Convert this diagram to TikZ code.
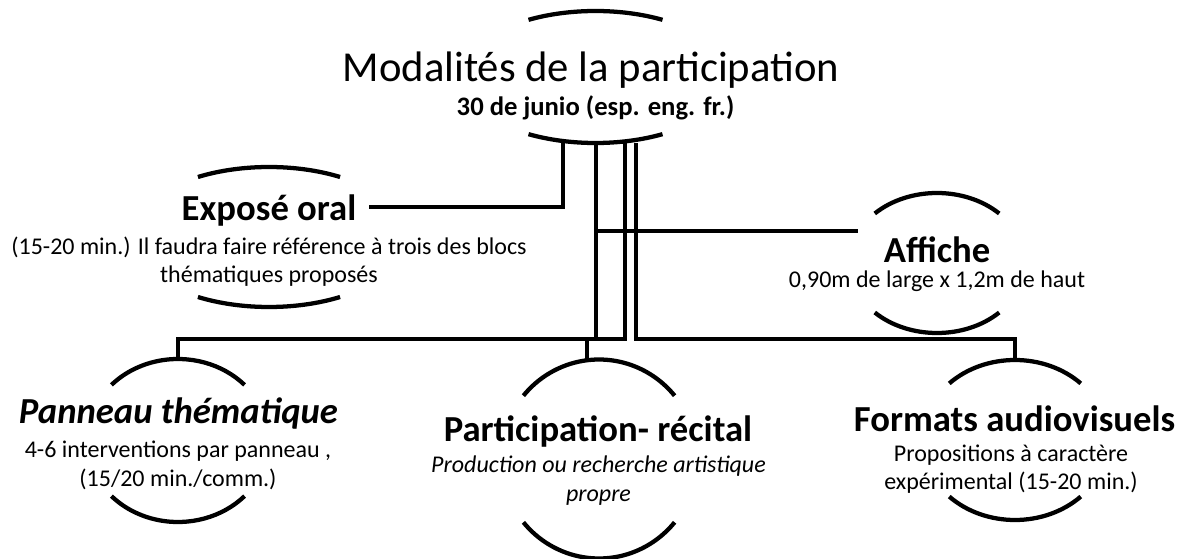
\documentclass[tikz,border=0pt]{standalone}
\usepackage{fontspec}
\setmainfont{Carlito}
\usetikzlibrary{shapes.geometric}

\begin{document}
\begin{tikzpicture}[x=0.75pt,y=-0.75pt,
  rim/.style={line width=3.2pt},
  link/.style={line width=3pt},
  frame/.style 2 args={ellipse,inner sep=0pt,outer sep=0pt,minimum width=1.5pt*#1,minimum height=1.5pt*#2},
  head/.style={font=\bfseries\fontsize{27.5}{33}\selectfont,inner sep=0pt,anchor=base},
  note/.style={font=\fontsize{18}{21}\selectfont,align=center,inner sep=0pt,anchor=base}]
 \useasboundingbox (0,0) rectangle (1189,559);
 % frames (x radius, y radius)
 \node[frame={134}{66}] (ttl) at (595.5,77) {};
 \node[frame={138}{70}] (expo) at (269,237) {};
 \node[frame={88}{70}] (aff) at (937,263) {};
 \node[frame={91}{81.5}] (pan) at (178,440.5) {};
 \node[frame={98}{99.5}] (rec) at (599,459) {};
 \node[frame={93}{80}] (av) at (1015,440) {};
 % open rims, top and bottom
 \draw[rim] ([shift={(-60:134 and 66)}]ttl.center) arc[start angle=-60,end angle=-120,x radius=134,y radius=66];
 \draw[rim] ([shift={(60:134 and 66)}]ttl.center) arc[start angle=60,end angle=120,x radius=134,y radius=66];
 \draw[rim] ([shift={(-59:138 and 70)}]expo.center) arc[start angle=-59,end angle=-121,x radius=138,y radius=70];
 \draw[rim] ([shift={(59:138 and 70)}]expo.center) arc[start angle=59,end angle=121,x radius=138,y radius=70];
 \draw[rim] ([shift={(-45:88 and 70)}]aff.center) arc[start angle=-45,end angle=-135,x radius=88,y radius=70];
 \draw[rim] ([shift={(45:88 and 70)}]aff.center) arc[start angle=45,end angle=135,x radius=88,y radius=70];
 \draw[rim] ([shift={(-43:91 and 81.5)}]pan.center) arc[start angle=-43,end angle=-137,x radius=91,y radius=81.5];
 \draw[rim] ([shift={(43:91 and 81.5)}]pan.center) arc[start angle=43,end angle=137,x radius=91,y radius=81.5];
 \draw[rim] ([shift={(-39.5:98 and 99.5)}]rec.center) arc[start angle=-39.5,end angle=-140.5,x radius=98,y radius=99.5];
 \draw[rim] ([shift={(39.5:98 and 99.5)}]rec.center) arc[start angle=39.5,end angle=140.5,x radius=98,y radius=99.5];
 \draw[rim] ([shift={(-45:93 and 80)}]av.center) arc[start angle=-45,end angle=-135,x radius=93,y radius=80];
 \draw[rim] ([shift={(45:93 and 80)}]av.center) arc[start angle=45,end angle=135,x radius=93,y radius=80];
 % texts (multi-line notes sit on their last line)
 \node[font=\fontsize{32}{38}\selectfont,anchor=base,inner sep=0pt] (ttl-h) at (591,82) {Modalités de la participation};
 \node[font=\bfseries\fontsize{20}{24}\selectfont,anchor=base,inner sep=0pt] (ttl-s) at (595.5,116) {30 de junio (esp. eng. fr.)};
 \node[head] (expo-h) at (269,221) {Exposé oral};
 \node[note] (expo-t) at (269,283) {(15-20 min.) Il faudra faire référence à trois des blocs\\thématiques proposés};
 \node[head] (aff-h) at (937,263) {Affiche};
 \node[note] (aff-t) at (937,288) {0,90m de large x 1,2m de haut};
 \node[head] (pan-h) at (178.5,424) {\itshape Panneau thématique};
 \node[note] (pan-t) at (178,486) {4-6 interventions par panneau ,\\(15/20 min./comm.)};
 \node[head] (rec-h) at (598,442) {Participation- récital};
 \node[note] (rec-t) at (598.5,501) {\itshape Production ou recherche artistique\\\itshape propre};
 \node[head] (av-h) at (1014.5,432) {Formats audiovisuels};
 \node[note] (av-t) at (1011,489) {Propositions à caractère\\expérimental (15-20 min.)};
 % connectors
 \coordinate (bus) at (600,339);
 \coordinate (expo-in) at (369,207);
 \coordinate (aff-in) at (858,231);
 \draw[link] ([shift={(-32.5,0)}]ttl.south) |- (expo-in);
 \draw[link] (ttl.south |- aff-in) -- (aff-in);
 \draw[link] (ttl.south) -- (ttl.south |- bus) -| (pan.north);
 \draw[link] ([shift={(29.5,0)}]ttl.south) coordinate (t2) -- (t2 |- bus) -| ([shift={(-12,0)}]rec.north);
 \draw[link] ([shift={(40.5,0)}]ttl.south) coordinate (t3) -- (t3 |- bus) -| (av.north);
\end{tikzpicture}
\end{document}
